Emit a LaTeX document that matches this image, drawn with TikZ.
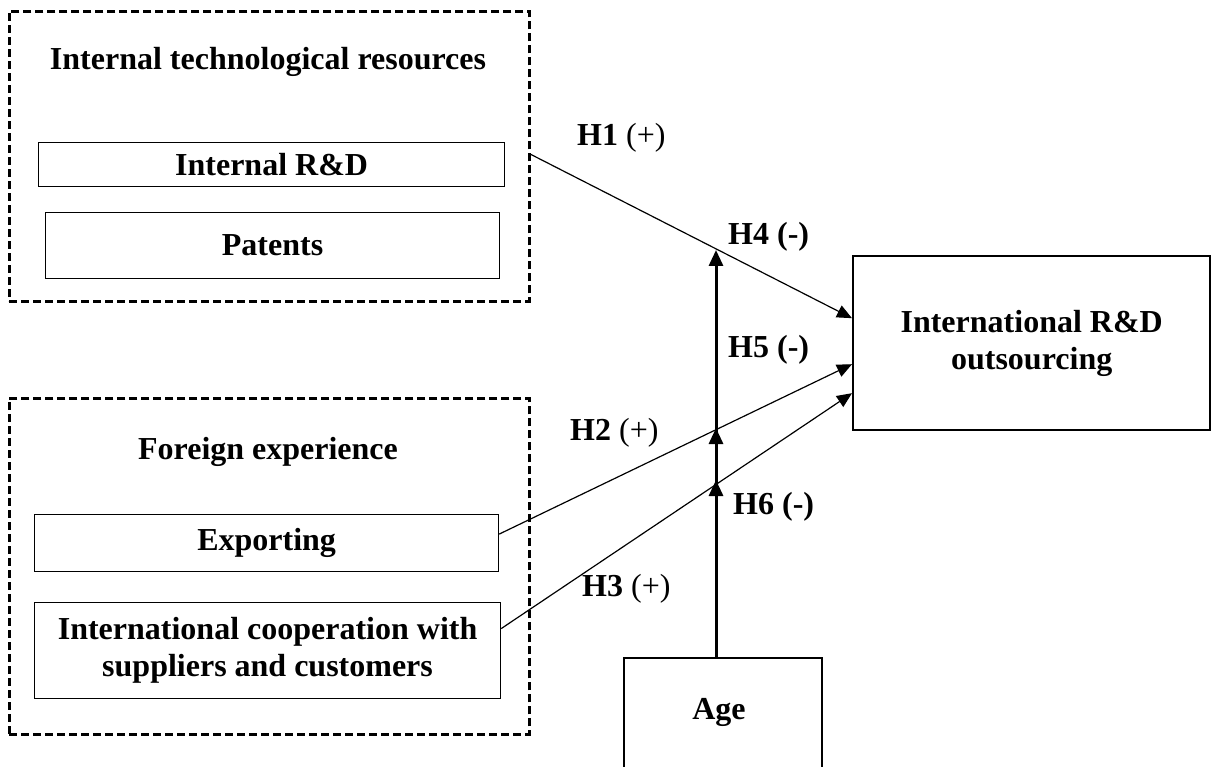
\documentclass[tikz,border=0pt]{standalone}
\usepackage{fontspec}
\setmainfont{Liberation Serif}
\usetikzlibrary{arrows.meta}
\begin{document}
\begin{tikzpicture}[x=1pt,y=-1pt,
  font=\fontsize{32}{37}\selectfont\bfseries,
  dbox/.style={draw, line width=2.6pt, dash pattern=on 8pt off 4pt, anchor=north west, inner sep=0pt},
  ibox/.style={draw, line width=1.2pt, anchor=north west, inner sep=0pt, align=center},
  mbox/.style={draw, line width=2.4pt, anchor=north west, inner sep=0pt, align=center},
  ttl/.style={inner sep=0pt},
  lbl/.style={anchor=west, inner sep=0pt},
  conn/.style={line width=1.2pt, -{Triangle[length=15pt,width=13pt]}},
  vconn/.style={line width=3pt, -{Triangle[length=16pt,width=14pt]}}
]
\useasboundingbox (0,0) rectangle (1211,767);
\fill[white] (0,0) rectangle (1211,767);

% groups
\node[dbox, minimum width=520pt, minimum height=290pt] (g1) at (8,10) {};
\node[dbox, minimum width=520pt, minimum height=336pt] (g2) at (8,397) {};
\node[ttl] (t1) at (268,62) {Internal technological resources};
\node[ttl] (t2) at (268,452) {Foreign experience};

% inner boxes
\node[ibox, minimum width=466pt, minimum height=44pt] (ird) at (38,142) {Internal R\&D};
\node[ibox, minimum width=454pt, minimum height=66pt] (pat) at (45,212) {Patents};
\node[ibox, minimum width=464pt, minimum height=57pt] (exp) at (34,514) {Exporting};
\node[ibox, minimum width=466pt, minimum height=96pt] (coop) at (34,602) {International cooperation with\\suppliers and customers};

% outcome
\node[mbox, minimum width=357pt, minimum height=174pt] (out) at (852,255) {International R\&D\\outsourcing};

% age (box continues beyond the lower edge)
\coordinate (agetl) at (624,658);
\coordinate (agetr) at (822,658);
\draw[line width=2.4pt] (624,780) -- (agetl) -- (agetr) -- (822,780);
\node[ttl] (age) at (719,712) {Age};

% connectors
\coordinate (vb) at (716,658);
\coordinate (vt) at (716,250);
\coordinate (v1) at (716,480);
\coordinate (v2) at (716,428);
\draw[vconn] (vb) -- (vt);
\draw[vconn] (vb) -- (v1);
\draw[vconn] (vb) -- (v2);

\draw[conn] ([yshift=2pt]g1.east) -- ([yshift=25pt]out.west);
\draw[conn] ([yshift=9pt]exp.east) -- ([yshift=-21pt]out.west);
\draw[conn] ([yshift=22pt]coop.east) -- ([yshift=-50pt]out.west);

% labels
\node[lbl] (l1) at (577,138) {H1 \mdseries(+)};
\node[lbl] (l4) at (728,237) {H4 (-)};
\node[lbl] (l5) at (728,350) {H5 (-)};
\node[lbl] (l2) at (570,433) {H2 \mdseries(+)};
\node[lbl] (l6) at (733,507) {H6 (-)};
\node[lbl] (l3) at (582,589) {H3 \mdseries(+)};
\end{tikzpicture}
\end{document}
